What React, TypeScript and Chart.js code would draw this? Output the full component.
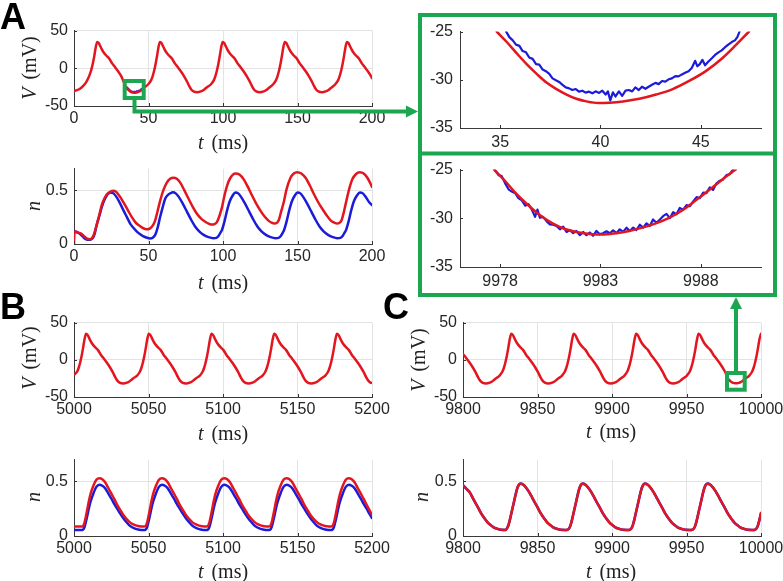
import React, { useEffect, useRef } from 'react';
import { Chart, registerables } from 'chart.js';

Chart.register(...registerables);

type P = [number, number][];

// ---------- Panel A : V (mV), t 0..200 ms ----------
const aVRed: P = [
  [0, -30], [2, -29], [4, -27], [6, -23.5], [8, -19], [9.6, -13], [10.6, -8], [11.6, -2], [12.6, 6], [13.6, 16], [14.6, 28], [15.6, 35],
  [16.6, 33.5], [17.6, 29.5], [18.6, 25.5], [19.6, 22], [21.6, 17], [23.6, 13], [25.6, 6.5], [27.6, 1.5], [29.6, -4], [31.6, -10], [33.6, -19],
  [34.8, -25], [36.3, -28.4], [37.8, -31], [39.3, -32.2], [40.5, -32.4], [42, -32], [43.6, -31], [45.3, -29.1], [47.4, -25], [49.7, -21.5], [51.7, -16], [52.7, -11], [53.7, -4], [54.7, 5], [55.7, 16], [56.7, 28], [57.7, 35],
  [58.7, 33.5], [59.7, 29.5], [60.7, 25.5], [61.7, 22], [63.7, 17], [65.7, 13], [67.7, 6.5], [69.7, 1.5], [71.7, -4], [73.7, -10], [75.7, -17], [77.2, -23], [78.7, -28], [80.2, -30.6], [82.7, -31.7], [85.2, -30.6], [86.7, -29.2], [88.2, -26.8], [89.7, -24.5], [91.8, -21.5], [93.8, -16], [94.8, -11], [95.8, -4], [96.8, 5], [97.8, 16], [98.8, 28], [99.8, 35],
  [100.8, 33.5], [101.8, 29.5], [102.8, 25.5], [103.8, 22], [105.8, 17], [107.8, 13], [109.8, 6.5], [111.8, 1.5], [113.8, -4], [115.8, -10], [117.8, -17], [119.3, -23], [120.8, -28], [122.3, -30.6], [124.8, -31.7], [127.3, -30.6], [128.8, -29.2], [130.3, -26.8], [131.8, -24.5], [133.5, -21.5], [135.5, -16], [136.5, -11], [137.5, -4], [138.5, 5], [139.5, 16], [140.5, 28], [141.5, 35],
  [142.5, 33.5], [143.5, 29.5], [144.5, 25.5], [145.5, 22], [147.5, 17], [149.5, 13], [151.5, 6.5], [153.5, 1.5], [155.5, -4], [157.5, -10], [159.5, -17], [161, -23], [162.5, -28], [164, -30.6], [166.5, -31.7], [169, -30.6], [170.5, -29.2], [172, -26.8], [173.5, -24.5], [175.2, -21.5], [177.2, -16], [178.2, -11], [179.2, -4], [180.2, 5], [181.2, 16], [182.2, 28], [183.2, 35],
  [184.2, 33.5], [185.2, 29.5], [186.2, 25.5], [187.2, 22], [189.2, 17], [191.2, 13], [193.2, 6.5], [195.2, 1.5], [197.2, -4], [199.2, -10], [200, -13],
];

// ---------- Inset (top): zoom of A around t = 33..48 ms ----------
const insetTopRed: P = [
  [34.83, -25], [35.33, -26.08], [35.83, -27.26], [36.32, -28.37], [36.82, -29.38], [37.31, -30.29], [37.81, -30.96], [38.31, -31.53], [38.8, -31.97], [39.3, -32.24], [39.88, -32.41], [40.45, -32.37], [41.12, -32.24], [41.94, -31.97], [42.77, -31.53], [43.6, -30.96], [44.42, -30.12], [45.25, -29.1], [46.07, -27.76], [46.74, -26.41], [47.4, -25],
];
const insetTopBlue: P = [
  [35.30, -25.0], [35.46, -25.57], [35.63, -25.91], [35.79, -26.35], [35.96, -26.48], [36.12, -27.02], [36.29, -27.15], [36.45, -27.69], [36.62, -27.83], [36.79, -28.37], [36.95, -28.43], [37.12, -28.94], [37.28, -29.11], [37.45, -29.38], [37.61, -29.85], [37.78, -30.05], [37.94, -30.22], [38.11, -30.52], [38.27, -30.79], [38.44, -30.89], [38.60, -31.06], [38.77, -30.96], [38.93, -31.23], [39.10, -31.13], [39.26, -31.33], [39.43, -31.23], [39.60, -31.40], [39.76, -31.20], [39.93, -31.36], [40.09, -31.13], [40.26, -31.53], [40.37, -31.20], [40.49, -32.14], [40.62, -31.30], [40.75, -31.73], [40.92, -31.20], [41.08, -31.67], [41.25, -31.13], [41.41, -31.06], [41.58, -31.20], [41.74, -30.79], [41.91, -31.06], [42.07, -30.72], [42.24, -30.93], [42.40, -30.72], [42.57, -30.52], [42.74, -30.32], [42.90, -30.45], [43.07, -30.12], [43.23, -30.19], [43.40, -29.95], [43.56, -29.85], [43.73, -29.61], [43.89, -29.65], [44.06, -29.44], [44.22, -29.28], [44.39, -29.11], [44.55, -28.77], [44.72, -28.03], [44.83, -28.60], [44.95, -28.37], [45.08, -27.93], [45.21, -28.50], [45.38, -28.10], [45.55, -27.76], [45.71, -27.42], [45.88, -27.15], [46.04, -26.95], [46.21, -26.62], [46.37, -26.35], [46.54, -26.08], [46.70, -25.91], [46.82, -25.57], [46.93, -25.0],
];

// ---------- Panel A : n ----------
const aNRed: P = [
  [0, 0], [0.3, 0.1], [1, 0.115], [3, 0.106], [5, 0.094], [7, 0.07], [8.5, 0.052], [10.8, 0.045], [13, 0.076], [15.2, 0.176], [17, 0.27], [18.6, 0.36], [20.3, 0.42], [22, 0.46], [24.2, 0.485], [26.5, 0.494], [28, 0.488], [29.8, 0.46], [32, 0.415], [34.3, 0.36], [36.5, 0.305], [38.8, 0.25], [41, 0.205], [43.3, 0.176], [45.5, 0.155], [47.8, 0.14], [49.5, 0.138], [51.1, 0.145], [52.8, 0.17], [54.5, 0.22], [56, 0.3], [57.8, 0.4], [60, 0.5], [62.3, 0.57], [64.5, 0.605], [66.8, 0.615], [69, 0.605], [71.3, 0.57], [74, 0.5], [76.9, 0.42], [79.7, 0.345], [82.5, 0.28], [85.3, 0.235], [88.1, 0.206], [90.3, 0.19], [92.6, 0.18], [94.3, 0.185], [96, 0.206], [97.6, 0.26], [99.3, 0.34], [101, 0.45], [102.7, 0.54], [105, 0.615], [108.3, 0.655], [111, 0.645], [113.9, 0.6], [116.7, 0.53], [119.5, 0.45], [122.3, 0.375], [125.1, 0.31], [127.9, 0.255], [130.7, 0.215], [132.6, 0.198], [134.5, 0.19], [136, 0.195], [137.4, 0.22], [139, 0.3], [140.8, 0.39], [142.5, 0.5], [145.3, 0.615], [147.5, 0.655], [149.8, 0.667], [152.6, 0.655], [155.4, 0.615], [158.2, 0.545], [161, 0.464], [163.8, 0.39], [166.6, 0.327], [169.4, 0.27], [172.2, 0.22], [174.5, 0.2], [176.7, 0.19], [178, 0.195], [179.4, 0.215], [180.8, 0.28], [182.3, 0.37], [184.5, 0.5], [186.8, 0.6], [189.3, 0.65], [191.9, 0.667], [194.4, 0.655], [196.9, 0.615], [198.5, 0.575], [200, 0.53],
];
const aNBlue: P = [
  [0, 0.12], [2, 0.108], [4, 0.094], [5.8, 0.07], [7.4, 0.048], [9, 0.04], [10.8, 0.039], [12, 0.048], [13, 0.064], [14, 0.1], [15.2, 0.176], [17, 0.26], [18.6, 0.34], [20.3, 0.405], [22, 0.45], [23.3, 0.47], [24.5, 0.478], [26.5, 0.47], [28.7, 0.433], [31, 0.375], [33.2, 0.312], [35.5, 0.25], [37.7, 0.19], [40, 0.148], [42.2, 0.115], [44.4, 0.09], [46.6, 0.07], [48.9, 0.058], [51.1, 0.052], [52.8, 0.058], [54.5, 0.085], [56.1, 0.15], [57.8, 0.25], [59.5, 0.34], [61.2, 0.42], [63.4, 0.46], [65.7, 0.478], [66.4, 0.48], [68.3, 0.47], [70.2, 0.44], [73, 0.375], [75.8, 0.3], [78.6, 0.225], [81.4, 0.16], [84.2, 0.115], [87, 0.085], [90.3, 0.064], [93.5, 0.054], [95.5, 0.057], [97, 0.075], [98.5, 0.11], [99.3, 0.13], [101, 0.21], [102.7, 0.31], [104.5, 0.395], [106.5, 0.45], [108.3, 0.478], [110.2, 0.47], [112, 0.44], [114.8, 0.375], [117.6, 0.3], [120.4, 0.225], [123.2, 0.16], [126, 0.115], [128.8, 0.085], [132, 0.064], [135.2, 0.054], [137.3, 0.057], [138.8, 0.075], [140.3, 0.11], [141, 0.13], [142.7, 0.21], [144.4, 0.31], [146.2, 0.395], [148.2, 0.45], [150, 0.478], [151.9, 0.47], [153.7, 0.44], [156.5, 0.375], [159.3, 0.3], [162.1, 0.225], [164.9, 0.16], [167.7, 0.115], [170.5, 0.085], [173.7, 0.064], [176.7, 0.054], [178.8, 0.057], [180.3, 0.075], [181.8, 0.11], [182.6, 0.13], [184.3, 0.21], [186, 0.31], [187.8, 0.395], [189.9, 0.45], [191.9, 0.478], [193.8, 0.47], [195.6, 0.44], [198, 0.39], [200, 0.36],
];

// ---------- Panel B : V, t 5000..5200 ----------
const bVRed: P = [
  [5000, -20], [5002.1, -16], [5003.1, -11], [5004.1, -4], [5005.1, 5], [5006.1, 16], [5007.1, 28], [5008.1, 35],
  [5009.1, 33.5], [5010.1, 29.5], [5011.1, 25.5], [5012.1, 22], [5014.1, 17], [5016.1, 13], [5018.1, 6.5], [5020.1, 1.5], [5022.1, -4], [5024.1, -10], [5026.1, -17], [5027.6, -23], [5029.1, -28], [5030.6, -30.6], [5033.1, -31.7], [5035.6, -30.6], [5037.1, -29.2], [5038.6, -26.8], [5040.1, -24.5], [5042.2, -21.5], [5044.2, -16], [5045.2, -11], [5046.2, -4], [5047.2, 5], [5048.2, 16], [5049.2, 28], [5050.2, 35],
  [5051.2, 33.5], [5052.2, 29.5], [5053.2, 25.5], [5054.2, 22], [5056.2, 17], [5058.2, 13], [5060.2, 6.5], [5062.2, 1.5], [5064.2, -4], [5066.2, -10], [5068.2, -17], [5069.7, -23], [5071.2, -28], [5072.7, -30.6], [5075.2, -31.7], [5077.7, -30.6], [5079.2, -29.2], [5080.7, -26.8], [5082.2, -24.5], [5084.3, -21.5], [5086.3, -16], [5087.3, -11], [5088.3, -4], [5089.3, 5], [5090.3, 16], [5091.3, 28], [5092.3, 35],
  [5093.3, 33.5], [5094.3, 29.5], [5095.3, 25.5], [5096.3, 22], [5098.3, 17], [5100.3, 13], [5102.3, 6.5], [5104.3, 1.5], [5106.3, -4], [5108.3, -10], [5110.3, -17], [5111.8, -23], [5113.3, -28], [5114.8, -30.6], [5117.3, -31.7], [5119.8, -30.6], [5121.3, -29.2], [5122.8, -26.8], [5124.3, -24.5], [5126.4, -21.5], [5128.4, -16], [5129.4, -11], [5130.4, -4], [5131.4, 5], [5132.4, 16], [5133.4, 28], [5134.4, 35],
  [5135.4, 33.5], [5136.4, 29.5], [5137.4, 25.5], [5138.4, 22], [5140.4, 17], [5142.4, 13], [5144.4, 6.5], [5146.4, 1.5], [5148.4, -4], [5150.4, -10], [5152.4, -17], [5153.9, -23], [5155.4, -28], [5156.9, -30.6], [5159.4, -31.7], [5161.9, -30.6], [5163.4, -29.2], [5164.9, -26.8], [5166.4, -24.5], [5168.5, -21.5], [5170.5, -16], [5171.5, -11], [5172.5, -4], [5173.5, 5], [5174.5, 16], [5175.5, 28], [5176.5, 35],
  [5177.5, 33.5], [5178.5, 29.5], [5179.5, 25.5], [5180.5, 22], [5182.5, 17], [5184.5, 13], [5186.5, 6.5], [5188.5, 1.5], [5190.5, -4], [5192.5, -10], [5194.5, -17], [5196, -23], [5197.5, -28], [5199, -30.6], [5200, -31.2],
];

// ---------- Panel B : n ----------
const bNRed: P = [
  [5000, 0.086], [5005, 0.087], [5006, 0.09], [5007, 0.12], [5008, 0.18], [5009, 0.25], [5010, 0.32], [5011, 0.38], [5013, 0.46], [5015, 0.515], [5017, 0.53], [5019, 0.52], [5021, 0.49], [5023, 0.44], [5025, 0.39], [5027, 0.34], [5029, 0.285], [5031, 0.24], [5033, 0.195], [5035, 0.16], [5037, 0.132], [5039, 0.112], [5041, 0.1], [5043, 0.092], [5045, 0.088], [5047, 0.086],
  [5048, 0.09], [5049, 0.12], [5050, 0.18], [5051, 0.25], [5052, 0.32], [5053, 0.38], [5055, 0.46], [5057, 0.515], [5059, 0.53], [5061, 0.52], [5063, 0.49], [5065, 0.44], [5067, 0.39], [5069, 0.34], [5071, 0.285], [5073, 0.24], [5075, 0.195], [5077, 0.16], [5079, 0.132], [5081, 0.112], [5083, 0.1], [5085, 0.092], [5087, 0.088], [5088.8, 0.086],
  [5089.8, 0.09], [5090.8, 0.12], [5091.8, 0.18], [5092.8, 0.25], [5093.8, 0.32], [5094.8, 0.38], [5096.8, 0.46], [5098.8, 0.515], [5100.8, 0.53], [5102.8, 0.52], [5104.8, 0.49], [5106.8, 0.44], [5108.8, 0.39], [5110.8, 0.34], [5112.8, 0.285], [5114.8, 0.24], [5116.8, 0.195], [5118.8, 0.16], [5120.8, 0.132], [5122.8, 0.112], [5124.8, 0.1], [5126.8, 0.092], [5128.8, 0.088], [5130.6, 0.086],
  [5131.6, 0.09], [5132.6, 0.12], [5133.6, 0.18], [5134.6, 0.25], [5135.6, 0.32], [5136.6, 0.38], [5138.6, 0.46], [5140.6, 0.515], [5142.6, 0.53], [5144.6, 0.52], [5146.6, 0.49], [5148.6, 0.44], [5150.6, 0.39], [5152.6, 0.34], [5154.6, 0.285], [5156.6, 0.24], [5158.6, 0.195], [5160.6, 0.16], [5162.6, 0.132], [5164.6, 0.112], [5166.6, 0.1], [5168.6, 0.092], [5170.6, 0.088], [5172.4, 0.086],
  [5173.4, 0.09], [5174.4, 0.12], [5175.4, 0.18], [5176.4, 0.25], [5177.4, 0.32], [5178.4, 0.38], [5180.4, 0.46], [5182.4, 0.515], [5184.4, 0.53], [5186.4, 0.52], [5188.4, 0.49], [5190.4, 0.44], [5192.4, 0.39], [5194.4, 0.34], [5196.4, 0.285], [5198.4, 0.235], [5200, 0.195],
];
const bNBlue: P = [
  [5000, 0.055], [5005, 0.055], [5006, 0.058], [5007, 0.08], [5008, 0.13], [5009, 0.19], [5010, 0.255], [5011, 0.31], [5013, 0.39], [5015, 0.45], [5017, 0.47], [5019, 0.46], [5021, 0.435], [5023, 0.39], [5025, 0.345], [5027, 0.295], [5029, 0.25], [5031, 0.205], [5033, 0.165], [5035, 0.13], [5037, 0.1], [5039, 0.08], [5041, 0.068], [5043, 0.06], [5045, 0.056], [5047, 0.055],
  [5048, 0.058], [5049, 0.08], [5050, 0.13], [5051, 0.19], [5052, 0.255], [5053, 0.31], [5055, 0.39], [5057, 0.45], [5059, 0.47], [5061, 0.46], [5063, 0.435], [5065, 0.39], [5067, 0.345], [5069, 0.295], [5071, 0.25], [5073, 0.205], [5075, 0.165], [5077, 0.13], [5079, 0.1], [5081, 0.08], [5083, 0.068], [5085, 0.06], [5087, 0.056], [5088.8, 0.055],
  [5089.8, 0.058], [5090.8, 0.08], [5091.8, 0.13], [5092.8, 0.19], [5093.8, 0.255], [5094.8, 0.31], [5096.8, 0.39], [5098.8, 0.45], [5100.8, 0.47], [5102.8, 0.46], [5104.8, 0.435], [5106.8, 0.39], [5108.8, 0.345], [5110.8, 0.295], [5112.8, 0.25], [5114.8, 0.205], [5116.8, 0.165], [5118.8, 0.13], [5120.8, 0.1], [5122.8, 0.08], [5124.8, 0.068], [5126.8, 0.06], [5128.8, 0.056], [5130.6, 0.055],
  [5131.6, 0.058], [5132.6, 0.08], [5133.6, 0.13], [5134.6, 0.19], [5135.6, 0.255], [5136.6, 0.31], [5138.6, 0.39], [5140.6, 0.45], [5142.6, 0.47], [5144.6, 0.46], [5146.6, 0.435], [5148.6, 0.39], [5150.6, 0.345], [5152.6, 0.295], [5154.6, 0.25], [5156.6, 0.205], [5158.6, 0.165], [5160.6, 0.13], [5162.6, 0.1], [5164.6, 0.08], [5166.6, 0.068], [5168.6, 0.06], [5170.6, 0.056], [5172.4, 0.055],
  [5173.4, 0.058], [5174.4, 0.08], [5175.4, 0.13], [5176.4, 0.19], [5177.4, 0.255], [5178.4, 0.31], [5180.4, 0.39], [5182.4, 0.45], [5184.4, 0.47], [5186.4, 0.46], [5188.4, 0.435], [5190.4, 0.39], [5192.4, 0.345], [5194.4, 0.295], [5196.4, 0.25], [5198.4, 0.2], [5200, 0.165],
];

// ---------- Panel C : V, t 9800..10000 ----------
const cVRed: P = [
  [9800, 7.8], [9802.5, 1.5], [9804.5, -4], [9806.5, -10], [9808.5, -17], [9810, -23], [9811.5, -28], [9813, -30.6], [9815.5, -31.7], [9818, -30.6], [9819.5, -29.2], [9821, -26.8], [9822.5, -24.5], [9824.4, -21.5], [9826.4, -16], [9827.4, -11], [9828.4, -4], [9829.4, 5], [9830.4, 16], [9831.4, 28], [9832.4, 35],
  [9833.4, 33.5], [9834.4, 29.5], [9835.4, 25.5], [9836.4, 22], [9838.4, 17], [9840.4, 13], [9842.4, 6.5], [9844.4, 1.5], [9846.4, -4], [9848.4, -10], [9850.4, -17], [9851.9, -23], [9853.4, -28], [9854.9, -30.6], [9857.4, -31.7], [9859.9, -30.6], [9861.4, -29.2], [9862.9, -26.8], [9864.4, -24.5], [9866.3, -21.5], [9868.3, -16], [9869.3, -11], [9870.3, -4], [9871.3, 5], [9872.3, 16], [9873.3, 28], [9874.3, 35],
  [9875.3, 33.5], [9876.3, 29.5], [9877.3, 25.5], [9878.3, 22], [9880.3, 17], [9882.3, 13], [9884.3, 6.5], [9886.3, 1.5], [9888.3, -4], [9890.3, -10], [9892.3, -17], [9893.8, -23], [9895.3, -28], [9896.8, -30.6], [9899.3, -31.7], [9901.8, -30.6], [9903.3, -29.2], [9904.8, -26.8], [9906.3, -24.5], [9908.2, -21.5], [9910.2, -16], [9911.2, -11], [9912.2, -4], [9913.2, 5], [9914.2, 16], [9915.2, 28], [9916.2, 35],
  [9917.2, 33.5], [9918.2, 29.5], [9919.2, 25.5], [9920.2, 22], [9922.2, 17], [9924.2, 13], [9926.2, 6.5], [9928.2, 1.5], [9930.2, -4], [9932.2, -10], [9934.2, -17], [9935.7, -23], [9937.2, -28], [9938.7, -30.6], [9941.2, -31.7], [9943.7, -30.6], [9945.2, -29.2], [9946.7, -26.8], [9948.2, -24.5], [9950.1, -21.5], [9952.1, -16], [9953.1, -11], [9954.1, -4], [9955.1, 5], [9956.1, 16], [9957.1, 28], [9958.1, 35],
  [9959.1, 33.5], [9960.1, 29.5], [9961.1, 25.5], [9962.1, 22], [9964.1, 17], [9966.1, 13], [9968.1, 6.5], [9970.1, 1.5], [9972.1, -4], [9974.1, -10], [9976.1, -17], [9977.7, -25], [9978.8, -27.4], [9979.9, -29.6], [9981.3, -31.1], [9982.6, -31.6], [9983.8, -31.5], [9985.1, -31], [9986.4, -30], [9987.8, -28.2], [9989.1, -26], [9989.7, -25], [9992, -21.5], [9994, -16], [9995, -11], [9996, -4], [9997, 5], [9998, 16], [9999, 28], [10000, 35],
];

// ---------- Inset (bottom): zoom of C around t = 9976..9991 ms ----------
const insetBotRed: P = [
  [9977.7, -25], [9978.28, -26.25], [9978.78, -27.42], [9979.28, -28.43], [9979.94, -29.61], [9980.61, -30.52], [9981.27, -31.13], [9981.94, -31.46], [9982.6, -31.63], [9983.1, -31.67], [9983.76, -31.53], [9984.43, -31.3], [9985.09, -30.96], [9985.76, -30.52], [9986.42, -29.95], [9987.09, -29.18], [9987.75, -28.16], [9988.42, -27.09], [9989.08, -26.01], [9989.74, -25],
];
const insetBotBlue: P = [
  [9977.75, -25.07], [9977.92, -25.57], [9978.08, -25.67], [9978.25, -26.41], [9978.42, -27.02], [9978.58, -27.26], [9978.75, -27.42], [9978.91, -27.93], [9979.08, -28.16], [9979.25, -28.70], [9979.41, -28.54], [9979.58, -29.11], [9979.74, -29.85], [9979.86, -29.11], [9979.98, -29.95], [9980.14, -29.85], [9980.31, -30.29], [9980.48, -30.62], [9980.64, -30.66], [9980.81, -30.79], [9980.98, -31.13], [9981.14, -30.86], [9981.31, -31.40], [9981.47, -31.20], [9981.64, -31.53], [9981.80, -31.30], [9981.97, -31.73], [9982.14, -31.40], [9982.30, -31.73], [9982.47, -31.46], [9982.63, -31.80], [9982.80, -31.30], [9982.97, -31.63], [9983.13, -31.53], [9983.30, -31.33], [9983.47, -31.53], [9983.63, -31.23], [9983.80, -31.53], [9983.96, -31.13], [9984.13, -31.40], [9984.30, -30.96], [9984.46, -31.30], [9984.63, -30.96], [9984.79, -31.20], [9984.96, -30.66], [9985.13, -30.96], [9985.29, -30.52], [9985.46, -30.79], [9985.62, -30.12], [9985.79, -30.45], [9985.96, -30.12], [9986.12, -29.78], [9986.29, -29.55], [9986.46, -29.98], [9986.62, -29.38], [9986.79, -29.58], [9986.95, -28.94], [9987.12, -29.11], [9987.29, -28.64], [9987.45, -28.77], [9987.62, -28.27], [9987.79, -27.83], [9987.95, -27.93], [9988.12, -27.36], [9988.28, -27.42], [9988.45, -26.82], [9988.61, -27.09], [9988.78, -26.41], [9988.95, -26.14], [9989.11, -26.01], [9989.28, -25.57], [9989.44, -25.47], [9989.61, -25.0],
];

// ---------- Panel C : n (both traces coincide) ----------
const cN: P = [
  [9800, 0.465], [9802.5, 0.43], [9804.5, 0.4], [9806.5, 0.35], [9808.5, 0.3], [9810.5, 0.25], [9812.5, 0.2], [9814.5, 0.16], [9816.5, 0.125], [9818.5, 0.1], [9820.5, 0.08], [9822.5, 0.068], [9824.5, 0.06], [9826.5, 0.056], [9828.5, 0.055],
  [9829.5, 0.07], [9830.5, 0.1], [9831.5, 0.15], [9832.5, 0.21], [9833.5, 0.27], [9834.5, 0.33], [9835.5, 0.39], [9836.5, 0.44], [9837.5, 0.47], [9838.5, 0.48], [9840.5, 0.47], [9842.5, 0.44], [9844.5, 0.4], [9846.5, 0.35], [9848.5, 0.3], [9850.5, 0.25], [9852.5, 0.2], [9854.5, 0.16], [9856.5, 0.125], [9858.5, 0.1], [9860.5, 0.08], [9862.5, 0.068], [9864.5, 0.06], [9866.5, 0.056], [9868.5, 0.055],
  [9870.2, 0.057], [9871.2, 0.07], [9872.2, 0.1], [9873.2, 0.15], [9874.2, 0.21], [9875.2, 0.27], [9876.2, 0.33], [9877.2, 0.39], [9878.2, 0.44], [9879.2, 0.47], [9880.2, 0.48], [9882.2, 0.47], [9884.2, 0.44], [9886.2, 0.4], [9888.2, 0.35], [9890.2, 0.3], [9892.2, 0.25], [9894.2, 0.2], [9896.2, 0.16], [9898.2, 0.125], [9900.2, 0.1], [9902.2, 0.08], [9904.2, 0.068], [9906.2, 0.06], [9908.2, 0.056], [9910.2, 0.055],
  [9912, 0.057], [9913, 0.07], [9914, 0.1], [9915, 0.15], [9916, 0.21], [9917, 0.27], [9918, 0.33], [9919, 0.39], [9920, 0.44], [9921, 0.47], [9922, 0.48], [9924, 0.47], [9926, 0.44], [9928, 0.4], [9930, 0.35], [9932, 0.3], [9934, 0.25], [9936, 0.2], [9938, 0.16], [9940, 0.125], [9942, 0.1], [9944, 0.08], [9946, 0.068], [9948, 0.06], [9950, 0.056], [9952, 0.055],
  [9954, 0.057], [9955, 0.07], [9956, 0.1], [9957, 0.15], [9958, 0.21], [9959, 0.27], [9960, 0.33], [9961, 0.39], [9962, 0.44], [9963, 0.47], [9964, 0.48], [9966, 0.47], [9968, 0.44], [9970, 0.4], [9972, 0.35], [9974, 0.3], [9976, 0.25], [9978, 0.2], [9980, 0.16], [9982, 0.125], [9984, 0.1], [9986, 0.08], [9988, 0.068], [9990, 0.06], [9992, 0.056], [9994, 0.055],
  [9996, 0.057], [9997, 0.07], [9998, 0.1], [9999, 0.15], [10000, 0.21],
];

// ---------- Tick values ----------
const ticksA = [0, 50, 100, 150, 200];
const ticksB = [5000, 5050, 5100, 5150, 5200];
const ticksC = [9800, 9850, 9900, 9950, 10000];
const ticksV = [-50, 0, 50];
const ticksN = [0, 0.5];
const ticksInsetTopX = [35, 40, 45];
const ticksInsetBotX = [9978, 9983, 9988];
const ticksInsetY = [-35, -30, -25];

const RED = '#e3161f';
const BLUE = '#1b1bd8';
const GREEN = '#1ca64f';
const SANS = '"Liberation Sans", Arial, Helvetica, sans-serif';
const SERIF = '"Liberation Serif", "Times New Roman", serif';
const PADL = 70, PADT = 14, PADR = 32, PADB = 40;

type SeriesSpec = { data: P; color: string; width: number; smooth: boolean };
type PanelSpec = {
  key: string; left: number; top: number; w: number; h: number;
  xMin: number; xMax: number; xTicks: number[];
  yMin: number; yMax: number; yTicks: number[];
  grid: boolean; xPad: number; yPad: number; series: SeriesSpec[];
};

const inwardTicks = {
  id: 'inwardTicks',
  afterDraw(chart: any) {
    const { ctx, chartArea: a, scales } = chart;
    const x = scales.x, y = scales.y;
    ctx.save();
    ctx.strokeStyle = '#333';
    ctx.lineWidth = 1;
    ctx.beginPath();
    x.ticks.forEach((t: any) => {
      const px = Math.round(x.getPixelForValue(t.value)) + 0.5;
      ctx.moveTo(px, a.bottom);
      ctx.lineTo(px, a.bottom - 3);
    });
    y.ticks.forEach((t: any) => {
      const py = Math.round(y.getPixelForValue(t.value)) + 0.5;
      ctx.moveTo(a.left, py);
      ctx.lineTo(a.left + 3, py);
    });
    ctx.stroke();
    ctx.restore();
  },
};

const panels: PanelSpec[] = [
  { key: 'aV', left: 74, top: 29, w: 298, h: 77, xMin: 0, xMax: 200, xTicks: ticksA, yMin: -50, yMax: 50, yTicks: ticksV, grid: true, xPad: 3, yPad: 6,
    series: [{ data: aVRed, color: RED, width: 2.5, smooth: true }, { data: insetTopBlue, color: BLUE, width: 2, smooth: false }] },
  { key: 'aN', left: 74, top: 167, w: 298, h: 77, xMin: 0, xMax: 200, xTicks: ticksA, yMin: 0, yMax: 0.7, yTicks: ticksN, grid: true, xPad: 3, yPad: 6,
    series: [{ data: aNRed, color: RED, width: 2.5, smooth: true }, { data: aNBlue, color: BLUE, width: 2.5, smooth: true }] },
  { key: 'bV', left: 74, top: 321, w: 298, h: 76, xMin: 5000, xMax: 5200, xTicks: ticksB, yMin: -50, yMax: 50, yTicks: ticksV, grid: true, xPad: 3, yPad: 6,
    series: [{ data: bVRed, color: RED, width: 2.5, smooth: true }] },
  { key: 'bN', left: 74, top: 458, w: 298, h: 78, xMin: 5000, xMax: 5200, xTicks: ticksB, yMin: 0, yMax: 0.7, yTicks: ticksN, grid: true, xPad: 3, yPad: 6,
    series: [{ data: bNRed, color: RED, width: 2.5, smooth: true }, { data: bNBlue, color: BLUE, width: 2.5, smooth: true }] },
  { key: 'cV', left: 463, top: 321, w: 298, h: 76, xMin: 9800, xMax: 10000, xTicks: ticksC, yMin: -50, yMax: 50, yTicks: ticksV, grid: true, xPad: 3, yPad: 6,
    series: [{ data: cVRed, color: RED, width: 2.5, smooth: true }] },
  { key: 'cN', left: 463, top: 458, w: 298, h: 78, xMin: 9800, xMax: 10000, xTicks: ticksC, yMin: 0, yMax: 0.7, yTicks: ticksN, grid: true, xPad: 3, yPad: 6,
    series: [{ data: cN, color: RED, width: 2.4, smooth: true }, { data: cN, color: BLUE, width: 2.6, smooth: true }] },
  { key: 'iT', left: 460, top: 29, w: 301, h: 99, xMin: 33, xMax: 48, xTicks: ticksInsetTopX, yMin: -35, yMax: -25, yTicks: ticksInsetY, grid: false, xPad: 5, yPad: 7,
    series: [{ data: insetTopRed, color: RED, width: 2.5, smooth: true }, { data: insetTopBlue, color: BLUE, width: 2.2, smooth: false }] },
  { key: 'iB', left: 460, top: 167, w: 301, h: 100, xMin: 9976, xMax: 9991, xTicks: ticksInsetBotX, yMin: -35, yMax: -25, yTicks: ticksInsetY, grid: false, xPad: 5, yPad: 7,
    series: [{ data: insetBotRed, color: RED, width: 2.5, smooth: true }, { data: insetBotBlue, color: BLUE, width: 2.2, smooth: false }] },
];

function ChartPanel({ spec }: { spec: PanelSpec }) {
  const ref = useRef<HTMLCanvasElement>(null);
  const W = spec.w + PADL + PADR;
  const H = spec.h + PADT + PADB;
  useEffect(() => {
    if (!ref.current) return;
    const chart = new Chart(ref.current, {
      type: 'line',
      data: {
        datasets: spec.series.map((s) => ({
          data: s.data.map(([x, y]) => ({ x, y })),
          borderColor: s.color,
          borderWidth: s.width,
          pointRadius: 0,
          fill: false,
          tension: 0,
          cubicInterpolationMode: s.smooth ? 'monotone' : 'default',
          borderJoinStyle: 'round',
          borderCapStyle: 'round',
        })) as any,
      },
      options: {
        animation: false,
        responsive: false,
        maintainAspectRatio: false,
        events: [],
        layout: { padding: { left: 0, top: PADT, right: PADR, bottom: 0 } },
        plugins: { legend: { display: false }, tooltip: { enabled: false } },
        scales: {
          x: {
            type: 'linear', min: spec.xMin, max: spec.xMax,
            afterBuildTicks: (s: any) => { s.ticks = spec.xTicks.map((v) => ({ value: v })); },
            afterFit: (s: any) => { s.height = PADB; },
            grid: { display: spec.grid, color: '#e3e3e3', lineWidth: 1, drawTicks: false },
            border: { display: true, color: '#3a3a3a', width: 1 },
            ticks: { color: '#262626', font: { family: SANS, size: 16 }, padding: spec.xPad, maxRotation: 0, autoSkip: false, callback: (v: any) => String(v) },
          },
          y: {
            type: 'linear', min: spec.yMin, max: spec.yMax,
            afterBuildTicks: (s: any) => { s.ticks = spec.yTicks.map((v) => ({ value: v })); },
            afterFit: (s: any) => { s.width = PADL; },
            grid: { display: spec.grid, color: '#e3e3e3', lineWidth: 1, drawTicks: false },
            border: { display: true, color: '#3a3a3a', width: 1 },
            ticks: { color: '#262626', font: { family: SANS, size: 16 }, padding: spec.yPad, autoSkip: false, callback: (v: any) => String(v) },
          },
        },
      } as any,
      plugins: [inwardTicks],
    });
    return () => chart.destroy();
  }, []);
  return (
    <canvas
      ref={ref}
      width={W}
      height={H}
      style={{ position: 'absolute', left: spec.left - PADL, top: spec.top - PADT, width: W, height: H }}
    />
  );
}

function XTitle({ cx, cy }: { cx: number; cy: number }) {
  return (
    <div style={{ position: 'absolute', left: cx - 60, top: cy - 12, width: 120, height: 24, lineHeight: '24px', textAlign: 'center', fontFamily: SERIF, fontSize: 20, color: '#222', whiteSpace: 'nowrap' }}>
      <i>t</i><span style={{ marginLeft: 8 }}>(ms)</span>
    </div>
  );
}

function YTitle({ cx, cy, kind }: { cx: number; cy: number; kind: 'V' | 'n' }) {
  return (
    <div style={{ position: 'absolute', left: cx - 60, top: cy - 12, width: 120, height: 24, lineHeight: '24px', textAlign: 'center', fontFamily: SERIF, fontSize: 20, color: '#222', whiteSpace: 'nowrap', transform: 'rotate(-90deg)' }}>
      {kind === 'V' ? (<><i>V</i><span style={{ marginLeft: 8 }}>(mV)</span></>) : <i>n</i>}
    </div>
  );
}

function Letter({ x, y, ch }: { x: number; y: number; ch: string }) {
  return (
    <div style={{ position: 'absolute', left: x, top: y, fontFamily: SANS, fontWeight: 'bold', fontSize: 36, lineHeight: 1, color: '#000' }}>{ch}</div>
  );
}

export default function App() {
  return (
    <div style={{ position: 'fixed', left: 0, top: 0, width: 783, height: 581, background: '#fff', overflow: 'hidden' }}>
      {panels.map((p) => <ChartPanel key={p.key} spec={p} />)}

      <XTitle cx={223} cy={142} />
      <XTitle cx={223} cy={282} />
      <XTitle cx={223} cy={433} />
      <XTitle cx={223} cy={571} />
      <XTitle cx={611} cy={431} />
      <XTitle cx={611} cy={571} />
      <YTitle cx={29} cy={68} kind="V" />
      <YTitle cx={33} cy={206} kind="n" />
      <YTitle cx={29} cy={358} kind="V" />
      <YTitle cx={33} cy={497} kind="n" />
      <YTitle cx={418} cy={360} kind="V" />
      <YTitle cx={421} cy={497} kind="n" />

      <Letter x={0} y={-1} ch="A" />
      <Letter x={0} y={289} ch="B" />
      <Letter x={383} y={289} ch="C" />

      <svg width={783} height={581} style={{ position: 'absolute', left: 0, top: 0, pointerEvents: 'none' }}>
        <rect x={420} y={15} width={355} height={280} fill="none" stroke={GREEN} strokeWidth={4} />
        <line x1={420} y1={153.5} x2={775} y2={153.5} stroke={GREEN} strokeWidth={4} />
        <rect x={124.7} y={81} width={19} height={17} fill="none" stroke={GREEN} strokeWidth={4} />
        <polyline points="134.5,100 134.5,111.5 409,111.5" fill="none" stroke={GREEN} strokeWidth={4} />
        <polygon points="406,105.5 418,111.5 406,117.5" fill={GREEN} />
        <rect x={727} y={373} width={17.7} height={16.7} fill="none" stroke={GREEN} strokeWidth={4} />
        <line x1={736} y1={371} x2={736} y2={307} stroke={GREEN} strokeWidth={4} />
        <polygon points="730,309 736,297 742,309" fill={GREEN} />
      </svg>
    </div>
  );
}
